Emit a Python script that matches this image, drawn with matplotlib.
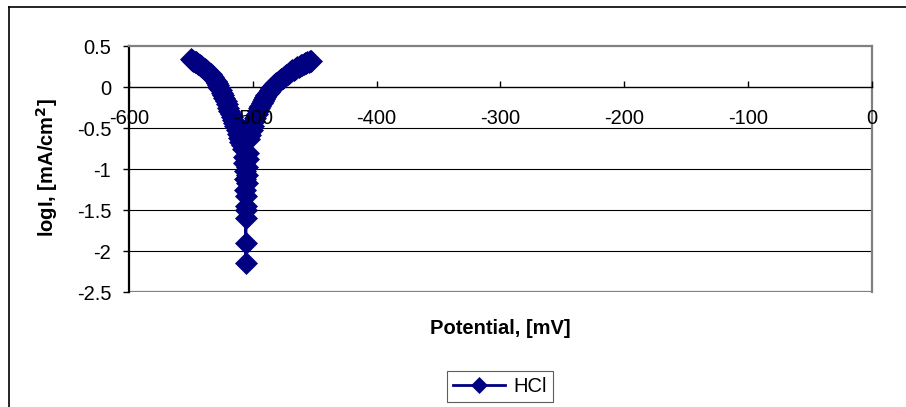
import matplotlib
matplotlib.use('Agg')
import matplotlib.pyplot as plt
from matplotlib.lines import Line2D

plt.rcParams['font.family'] = ['Liberation Sans', 'DejaVu Sans']
plt.rcParams['axes.unicode_minus'] = False

# Datos (potencial en mV, log I)
potencial = [-550, -549, -548, -547, -546, -545, -544, -543, -542, -541,
             -540, -539, -538, -537, -536, -535, -534, -533, -532, -531,
             -530, -529, -528, -527, -526, -525, -524, -523, -522, -521,
             -520, -519, -518, -517, -516, -515, -514, -513, -512, -511,
             -510, -509, -508, -507.2, -506.8, -506.5, -506.2, -506.0, -505.9,
             -505.8, -505.7, -505.6, -505.5, -505.3, -505.1, -504.9, -504.6,
             -504.2, -503.7, -503, -502, -501, -500, -499, -498, -497, -496,
             -495, -494, -493, -492, -491, -490, -489, -488, -487, -486, -485,
             -484, -483, -482, -481, -480, -479, -478, -477, -476, -475, -474,
             -473, -472, -471, -470, -469, -468, -467, -466, -465, -464, -463,
             -462, -461, -460, -459, -458, -457, -456, -455, -454, -453]
log_i = [0.34, 0.33, 0.32, 0.31, 0.30, 0.29, 0.28, 0.27, 0.26, 0.248,
         0.235, 0.222, 0.21, 0.198, 0.185, 0.173, 0.16, 0.14, 0.12, 0.098,
         0.075, 0.048, 0.02, -0.01, -0.04, -0.07, -0.10, -0.137, -0.175, -0.212,
         -0.25, -0.287, -0.325, -0.362, -0.40, -0.44, -0.48, -0.525, -0.57, -0.617,
         -0.665, -0.712, -0.76, -0.85, -0.93, -1.02, -1.12, -1.25, -1.45,
         -1.6, -2.15, -1.9, -1.5, -1.33, -1.17, -1.07, -0.98,
         -0.88, -0.80, -0.64, -0.58, -0.52, -0.47, -0.42, -0.375, -0.33, -0.295,
         -0.26, -0.228, -0.195, -0.17, -0.145, -0.122, -0.10, -0.077, -0.055, -0.035, -0.015,
         0.003, 0.02, 0.035, 0.05, 0.064, 0.078, 0.089, 0.10, 0.112, 0.125, 0.137,
         0.15, 0.16, 0.17, 0.181, 0.192, 0.202, 0.213, 0.223, 0.233, 0.242, 0.25,
         0.258, 0.265, 0.273, 0.28, 0.288, 0.295, 0.302, 0.31, 0.315, 0.32]

x_ticks = [-600, -500, -400, -300, -200, -100, 0]
y_ticks = [-2.5, -2, -1.5, -1, -0.5, 0, 0.5]
y_labels = ['-2.5', '-2', '-1.5', '-1', '-0.5', '0', '0.5']

W, H = 906, 407
fig = plt.figure(figsize=(W / 100, H / 100), dpi=100)
ax = fig.add_axes([129 / W, 1 - 292 / H, (872 - 129) / W, (292 - 46) / H])

# lineas de cuadricula
for yv in [-2, -1.5, -1, -0.5]:
    ax.axhline(yv, color='#000000', lw=0.8, zorder=1)
ax.axhline(-2.5, color='#808080', lw=1.6, zorder=1)

ax.plot(potencial, log_i, color='#000080', lw=2, marker='D', markersize=11,
        markeredgewidth=0.5, markeredgecolor='#000080', zorder=3, label='HCl')

ax.set_xlim(-600, 0)
ax.set_ylim(-2.5, 0.5)
ax.set_xticks(x_ticks)
ax.set_xticklabels([str(v) for v in x_ticks])
ax.set_yticks(y_ticks)
ax.set_yticklabels(y_labels)

ax.spines['bottom'].set_position(('data', 0))
ax.spines['bottom'].set_color('black')
ax.spines['bottom'].set_linewidth(1.0)
ax.spines['left'].set_color('black')
ax.spines['left'].set_linewidth(1.6)
for s in ['top', 'right']:
    ax.spines[s].set_color('#808080')
    ax.spines[s].set_linewidth(1.6)

ax.tick_params(axis='x', direction='in', length=4, width=1, pad=16,
               labelsize=14.5)
ax.tick_params(axis='y', direction='out', length=4.3, width=1, pad=8.5,
               labelsize=14.5)
# etiquetas del eje x por encima de la curva
ax.xaxis.set_zorder(4)

fig.text(500 / W, 1 - 328 / H, 'Potential, [mV]', ha='center', va='center',
         fontsize=14.5, fontweight='bold')
fig.text(47 / W, 1 - 168 / H, 'logI, [mA/cm$\\mathbf{^2}$]', ha='center',
         va='center', rotation=90, fontsize=14.5, fontweight='bold')

leg = fig.legend(loc='center', bbox_to_anchor=(500 / W, 1 - 386.5 / H),
                 fontsize=14.5, frameon=True, fancybox=False,
                 handlelength=2.6, borderpad=0.3, handletextpad=0.4,
                 markerscale=0.75)
leg.get_frame().set_edgecolor('#333333')
leg.get_frame().set_linewidth(0.8)

# borde exterior del grafico
fig.add_artist(Line2D([8.5 / W, 8.5 / W], [0, 1 - 7 / H], color='black', lw=1.2))
fig.add_artist(Line2D([8.5 / W, 1], [1 - 7 / H, 1 - 7 / H], color='black', lw=1.2))

fig.savefig('out.png', dpi=100)
